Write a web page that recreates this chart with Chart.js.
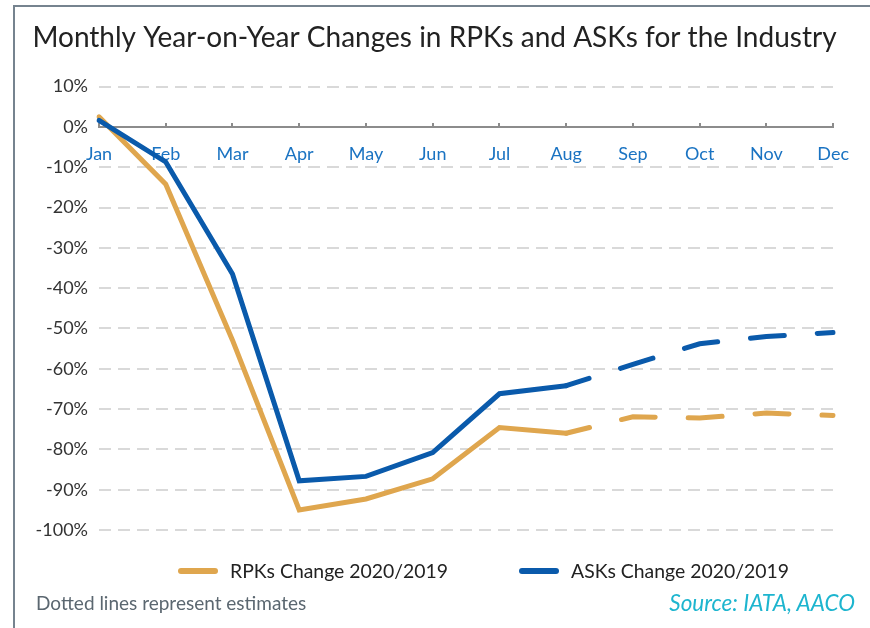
<!DOCTYPE html>
<html>
<head>
<meta charset="utf-8">
<script src="https://cdn.jsdelivr.net/npm/chart.js@4.4.0/dist/chart.umd.min.js"></script>
<style>
  html, body { margin: 0; padding: 0; background: #fff; }
  #wrap { position: relative; width: 870px; height: 628px; overflow: hidden; font-family: Lato, sans-serif; }
  #frame { position: absolute; left: 13px; top: 5px; right: -10px; bottom: -10px; border-top: 2px solid #76838f; border-left: 2px solid #76838f; }
  #chart { position: absolute; left: 0; top: 0; }
  #legend { position: absolute; left: 178px; top: 559px; display: flex; font-size: 19.4px; color: #222; }
  .item { display: flex; align-items: center; margin-right: 71px; }
  .swatch { width: 40px; height: 6px; border-radius: 3px; margin-right: 12px; }
  #note { position: absolute; left: 36px; top: 591px; font-size: 19px; color: #5b6770; }
  #source { position: absolute; right: 15px; top: 589px; font-size: 22.5px; font-style: italic; color: #1db5cf; }
</style>
</head>
<body>
<div id="wrap">
  <div id="frame"></div>
  <canvas id="chart" width="870" height="628"></canvas>
  <div id="legend"></div>
  <div id="note">Dotted lines represent estimates</div>
  <div id="source">Source: IATA, AACO</div>
</div>

<script>
const months = ["Jan", "Feb", "Mar", "Apr", "May", "Jun", "Jul", "Aug", "Sep", "Oct", "Nov", "Dec"];
const rpkChange = [2.5, -14.2, -52.9, -95.0, -92.3, -87.3, -74.6, -76.0, -71.9, -72.2, -71.0, -71.6];
const askChange = [1.6, -8.7, -36.5, -87.8, -86.7, -80.8, -66.2, -64.2, -58.9, -53.8, -52.0, -51.0];
const firstEstimate = 7; // lines are dashed from Aug onwards

const orange = '#dfa64e';
const blue = '#0a5aab';

document.addEventListener('DOMContentLoaded', function() {
    initChart()
});

function dashed(ctx) {
    return ctx.p0DataIndex >= firstEstimate ? [34, 33] : undefined
}

function initChart() {
    let data = {
        labels: months,
        datasets: [{
            label: "RPKs Change 2020/2019",
            data: rpkChange,
            borderColor: orange,
            backgroundColor: orange,
            order: 1
        }, {
            label: "ASKs Change 2020/2019",
            data: askChange,
            borderColor: blue,
            backgroundColor: blue,
            order: 0
        }]
    };

    data.datasets.forEach(function(ds) {
        ds.borderWidth = 5
        ds.pointRadius = 0
        ds.tension = 0
        ds.borderCapStyle = 'round'
        ds.segment = {
            borderDash: dashed,
            borderDashOffset: function(ctx) { return ctx.p0DataIndex >= firstEstimate ? 10 : 0 }
        }
    });

    let options = {
        responsive: false,
        animation: false,
        layout: {
            padding: { left: 32, right: 33, top: 0, bottom: 98 }
        },
        plugins: {
            legend: { display: false },
            tooltip: { enabled: false },
            title: {
                display: true,
                text: "Monthly Year-on-Year Changes in RPKs and ASKs for the Industry",
                color: '#222',
                font: { family: 'Lato', size: 28, weight: 'normal' },
                padding: { top: 21, bottom: 32 }
            }
        },
        scales: {
            y: {
                min: -100,
                max: 10,
                afterFit: function(scale) { scale.width = 67 },
                grid: {
                    drawTicks: false,
                    lineWidth: 2,
                    color: function(ctx) { return ctx.tick && ctx.tick.value === 0 ? 'transparent' : '#d9d9d9' }
                },
                border: { display: false, dash: [12, 7] },
                ticks: {
                    stepSize: 10,
                    padding: 11,
                    color: '#333',
                    font: { family: 'Lato', size: 18 },
                    callback: function(value) { return value + '%' }
                }
            },
            x: {
                position: { y: 0 },
                afterFit: function(scale) { scale.height = 0 },
                border: { display: true, color: '#8c8c8c', width: 2 },
                grid: {
                    drawOnChartArea: false,
                    tickLength: -5,
                    color: '#8c8c8c',
                    lineWidth: 2
                },
                ticks: {
                    padding: 21,
                    maxRotation: 0,
                    autoSkip: false,
                    color: '#1a73c2',
                    font: { family: 'Lato', size: 18 }
                }
            }
        }
    };

    let ctx = document.getElementById('chart').getContext('2d');
    const chart = new Chart(ctx, {
        type: 'line',
        options: options,
        data: data
    });

    // legend built from the datasets, in their original order
    let legend = document.getElementById('legend');
    chart.data.datasets.forEach(function(ds) {
        let item = document.createElement('div');
        item.className = 'item';
        let sw = document.createElement('span');
        sw.className = 'swatch';
        sw.style.background = ds.borderColor;
        let txt = document.createElement('span');
        txt.textContent = ds.label;
        item.appendChild(sw);
        item.appendChild(txt);
        legend.appendChild(item);
    });
}
</script>
</body>
</html>
